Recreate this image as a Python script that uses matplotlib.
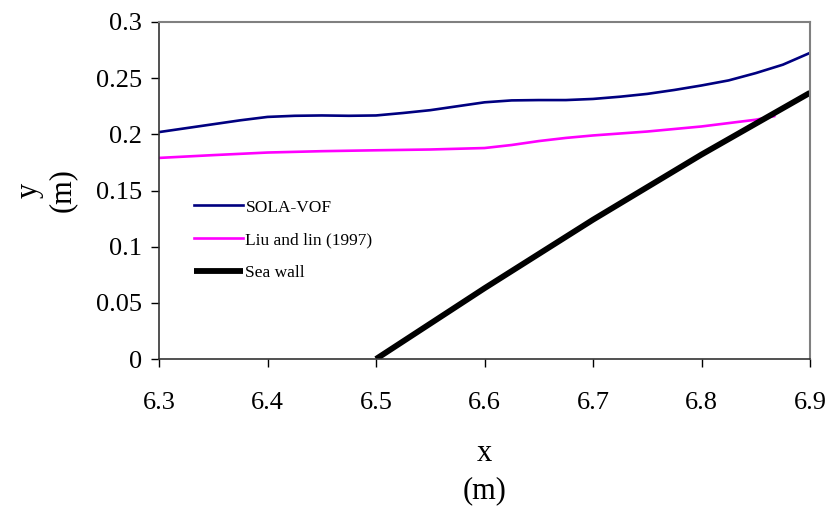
import matplotlib
matplotlib.use('Agg')
import matplotlib.pyplot as plt

# フォント (Times 風)
plt.rcParams['font.family'] = ['Liberation Serif', 'DejaVu Serif']

# データ
x_sola = [6.300, 6.325, 6.350, 6.375, 6.400, 6.425, 6.450, 6.475, 6.500, 6.525,
          6.550, 6.575, 6.600, 6.625, 6.650, 6.675, 6.700, 6.725, 6.750, 6.775,
          6.800, 6.825, 6.850, 6.875, 6.900]
y_sola = [0.2020, 0.2055, 0.2090, 0.2125, 0.2155, 0.2165, 0.2168, 0.2165, 0.2168, 0.2190,
          0.2215, 0.2250, 0.2285, 0.2302, 0.2305, 0.2305, 0.2315, 0.2335, 0.2360, 0.2395,
          0.2435, 0.2480, 0.2545, 0.2620, 0.2725]

x_liu = [6.300, 6.350, 6.400, 6.450, 6.500, 6.550, 6.600, 6.625, 6.650, 6.675,
         6.700, 6.750, 6.800, 6.825, 6.850, 6.867]
y_liu = [0.1790, 0.1815, 0.1838, 0.1850, 0.1858, 0.1865, 0.1878, 0.1905, 0.1940, 0.1968,
         0.1990, 0.2025, 0.2070, 0.2100, 0.2130, 0.2162]

x_wall = [6.5, 6.6, 6.7, 6.8, 6.9]
y_wall = [0.0, 0.063, 0.124, 0.182, 0.237]

x_ticks = [6.3, 6.4, 6.5, 6.6, 6.7, 6.8, 6.9]
y_ticks = [0, 0.05, 0.1, 0.15, 0.2, 0.25, 0.3]
y_labels = ['0', '0.05', '0.1', '0.15', '0.2', '0.25', '0.3']

fig = plt.figure(figsize=(8.3, 5.08), dpi=100)
ax = fig.add_axes([0.1916, 0.2933, 0.7843, 0.6634])

ax.plot(x_sola, y_sola, color='#000080', lw=1.9, label='SOLA-VOF')
ax.plot(x_liu, y_liu, color='#FF00FF', lw=1.9, label='Liu and lin (1997)')
ax.plot(x_wall, y_wall, color='black', lw=4.2, label='Sea wall', solid_capstyle='butt')

ax.set_xlim(6.3, 6.9)
ax.set_ylim(0, 0.3)
ax.set_xticks(x_ticks)
ax.set_xticklabels([str(v) for v in x_ticks])
ax.set_yticks(y_ticks)
ax.set_yticklabels(y_labels)
ax.tick_params(direction='out', length=6, width=1, labelsize=19, pad=6)
ax.tick_params(axis='x', pad=18)

for s in ['top', 'right']:
    ax.spines[s].set_color('#808080')
    ax.spines[s].set_linewidth(1.5)
for s in ['left', 'bottom']:
    ax.spines[s].set_color('#333333')
    ax.spines[s].set_linewidth(1.2)

ax.set_xlabel('x\n(m)', fontsize=22, linespacing=1.35, labelpad=18)
ax.set_ylabel('y\n(m)', fontsize=22, linespacing=1.2, labelpad=14)

ax.legend(loc='upper left', bbox_to_anchor=(0.03, 0.52), frameon=False,
          fontsize=12.5, handlelength=2.8, handletextpad=0.15, labelspacing=0.95)

fig.savefig('out.png', dpi=100)
